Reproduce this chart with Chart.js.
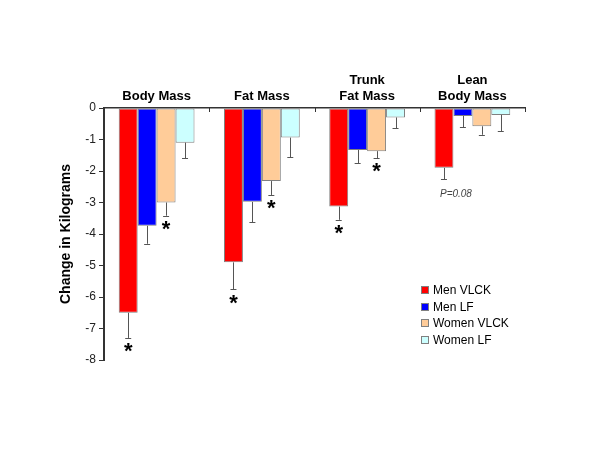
<!DOCTYPE html>
<html>
<head>
<meta charset="utf-8">
<script src="https://cdn.jsdelivr.net/npm/chart.js@4"></script>
<style>
  html, body { margin: 0; padding: 0; background: #fff; }
  .wrap { position: relative; width: 600px; height: 450px; }
  .legend { position: absolute; left: 421px; top: 282px; font: 12px "Liberation Sans", Arial, sans-serif; color: #000; }
  .legend div { height: 16.5px; line-height: 16.5px; white-space: nowrap; }
  .legend span { display: inline-block; width: 6px; height: 6px; border: 1px solid #808080; margin-right: 4px; vertical-align: 0px; }
</style>
</head>
<body>
<div class="wrap">
  <canvas id="myChart" width="600" height="450"></canvas>
  <div class="legend" id="legend"></div>
</div>
<script>
// categorias e valores
const categories = [['Body Mass'], ['Fat Mass'], ['Trunk', 'Fat Mass'], ['Lean', 'Body Mass']];
const yTicks = [0, -1, -2, -3, -4, -5, -6, -7, -8];

const menVlck = [-6.5, -4.9, -3.13, -1.9];
const menVlckErr = [0.8, 0.86, 0.42, 0.36];
const menVlckNotes = ['*', '*', '*', 'P=0.08'];

const menLf = [-3.74, -2.98, -1.33, -0.25];
const menLfErr = [0.57, 0.65, 0.42, 0.36];
const menLfNotes = ['', '', '', ''];

const womenVlck = [-3.0, -2.32, -1.37, -0.58];
const womenVlckErr = [0.42, 0.44, 0.23, 0.27];
const womenVlckNotes = ['*', '*', '*', ''];

const womenLf = [-1.1, -0.94, -0.3, -0.22];
const womenLfErr = [0.5, 0.63, 0.35, 0.52];
const womenLfNotes = ['', '', '', ''];

const FONT = '"Liberation Sans", Arial, sans-serif';

// barras de erro, asteriscos e marcas do eixo x
const extras = {
    id: 'extras',
    afterDatasetsDraw(chart) {
        const ctx = chart.ctx;
        const y = chart.scales.y;
        ctx.save();
        chart.data.datasets.forEach((ds, di) => {
            const meta = chart.getDatasetMeta(di);
            meta.data.forEach((bar, i) => {
                const end = y.getPixelForValue(ds.data[i] - ds.errors[i]);
                ctx.strokeStyle = '#555';
                ctx.lineWidth = 1;
                ctx.beginPath();
                ctx.moveTo(Math.round(bar.x) + 0.5, bar.y);
                ctx.lineTo(Math.round(bar.x) + 0.5, end);
                ctx.moveTo(bar.x - 3, Math.round(end) + 0.5);
                ctx.lineTo(bar.x + 3, Math.round(end) + 0.5);
                ctx.stroke();

                const note = ds.notes[i];
                if (note === '*') {
                    ctx.fillStyle = '#000';
                    ctx.font = 'bold 22px ' + FONT;
                    ctx.textAlign = 'center';
                    ctx.textBaseline = 'top';
                    ctx.fillText('*', bar.x, end + 3);
                } else if (note) {
                    ctx.fillStyle = '#444';
                    ctx.font = 'italic 10px ' + FONT;
                    ctx.textAlign = 'left';
                    ctx.textBaseline = 'middle';
                    ctx.fillText(note, bar.x - 4, end + 15);
                }
            });
        });

        // ticks do eixo x para baixo
        const x = chart.scales.x;
        const top = chart.chartArea.top;
        const n = categories.length;
        ctx.strokeStyle = '#333';
        ctx.lineWidth = 1;
        ctx.beginPath();
        for (let i = 0; i <= n; i++) {
            const px = Math.round(x.left + i * (x.right - x.left) / n) + 0.5;
            ctx.moveTo(px, top);
            ctx.lineTo(px, top + 4);
        }
        ctx.stroke();
        ctx.restore();
    }
};

const ctx = document.getElementById('myChart').getContext('2d');

const graph = new Chart(ctx, {
    type: 'bar',
    data: {
        labels: categories,
        datasets: [
            { label: 'Men VLCK', data: menVlck, errors: menVlckErr, notes: menVlckNotes, backgroundColor: '#FF0000' },
            { label: 'Men LF', data: menLf, errors: menLfErr, notes: menLfNotes, backgroundColor: '#0000FF' },
            { label: 'Women VLCK', data: womenVlck, errors: womenVlckErr, notes: womenVlckNotes, backgroundColor: '#FFCC99' },
            { label: 'Women LF', data: womenLf, errors: womenLfErr, notes: womenLfNotes, backgroundColor: '#CCFFFF' }
        ].map(d => Object.assign(d, {
            borderColor: '#808080',
            borderWidth: 1,
            borderSkipped: false,
            categoryPercentage: 0.72,
            barPercentage: 1.0
        }))
    },
    options: {
        responsive: false,
        animation: false,
        layout: {
            padding: { left: 58, right: 75, top: 0, bottom: 90 }
        },
        plugins: {
            legend: { display: false },
            tooltip: { enabled: false }
        },
        scales: {
            x: {
                position: 'top',
                afterFit: s => { s.height = 108; },
                grid: { display: true, drawOnChartArea: false, drawTicks: false },
                border: { display: true, color: '#333', width: 1.5 },
                ticks: {
                    padding: 4,
                    color: '#000',
                    font: { family: FONT, size: 13, weight: 'bold' }
                }
            },
            y: {
                min: -8,
                max: 0,
                afterFit: s => { s.width = 46; },
                afterBuildTicks: s => { s.ticks = yTicks.map(v => ({ value: v })); },
                grid: { drawOnChartArea: false, tickLength: 5, color: '#333' },
                border: { display: true, color: '#333', width: 2 },
                ticks: {
                    padding: 3,
                    color: '#222',
                    font: { family: FONT, size: 12 }
                },
                title: {
                    display: true,
                    text: 'Change in Kilograms',
                    color: '#000',
                    padding: 0,
                    font: { family: FONT, size: 14, weight: 'bold' }
                }
            }
        }
    },
    plugins: [extras]
});

// legenda em HTML a partir dos datasets
document.getElementById('legend').innerHTML = graph.data.datasets
    .map(d => `<div><span style="background:${d.backgroundColor}"></span>${d.label}</div>`)
    .join('');
</script>
</body>
</html>
